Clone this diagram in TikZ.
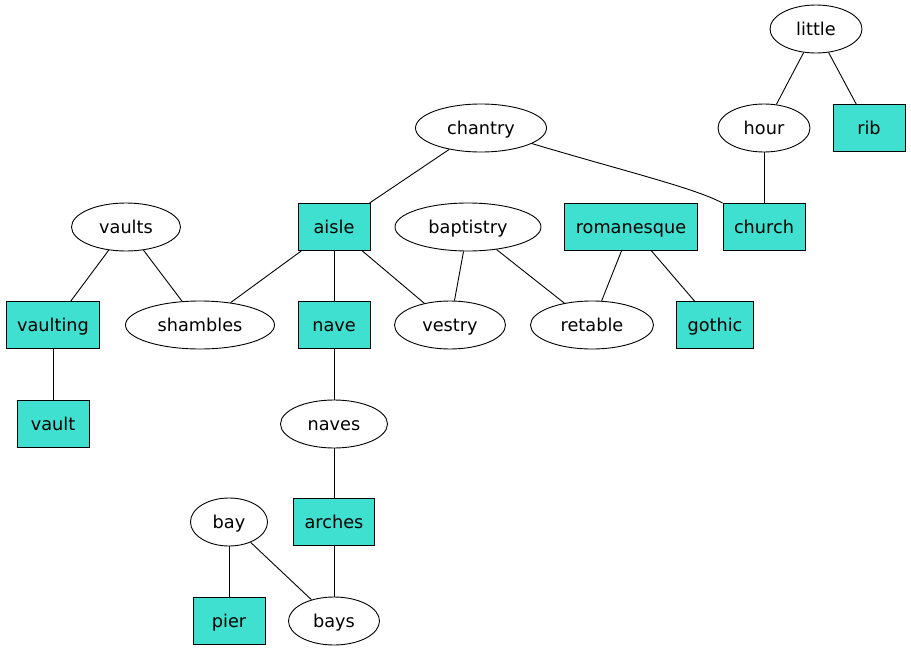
\documentclass[tikz,border=0pt]{standalone}
\usepackage{fontspec}
\setmainfont{DejaVu Sans}
\usetikzlibrary{shapes.geometric}
\begin{document}
\begin{tikzpicture}[x=1pt,y=-1pt,
  every node/.style={font=\fontsize{17.7}{20}\selectfont, inner sep=0pt, text height=14pt, text depth=2pt},
  ell/.style={draw, line width=0.9pt, ellipse, minimum height=48pt},
  sq/.style={draw, line width=0.9pt, rectangle, fill=tq, minimum height=47pt, minimum width=72pt, inner xsep=11pt},
  edge/.style={line width=0.9pt}]
\definecolor{tq}{HTML}{40E0D0}
\useasboundingbox (0,0) rectangle (911,653);
\node[ell, minimum width=92pt] (little) at (816,29) {little};
\node[ell, minimum width=92pt] (hour) at (764,128) {hour};
\node[sq] (rib) at (869,128) {rib};
\node[ell, minimum width=131pt] (chantry) at (481,128) {chantry};
\node[sq] (church) at (764,227) {church};
\node[ell, minimum width=109pt] (vaults) at (126,227) {vaults};
\node[sq] (aisle) at (334,227) {aisle};
\node[ell, minimum width=146pt] (baptistry) at (468,227) {baptistry};
\node[sq] (romanesque) at (631,227) {romanesque};
\node[sq] (vaulting) at (53,325) {vaulting};
\node[ell, minimum width=149pt] (shambles) at (200,325) {shambles};
\node[sq] (nave) at (334,325) {nave};
\node[ell, minimum width=111pt] (vestry) at (450,325) {vestry};
\node[ell, minimum width=123pt] (retable) at (592,325) {retable};
\node[sq] (gothic) at (715,325) {gothic};
\node[sq] (vault) at (53,424) {vault};
\node[ell, minimum width=107pt] (naves) at (334,424) {naves};
\node[ell, minimum width=77pt] (bay) at (229,522) {bay};
\node[sq] (arches) at (334,522) {arches};
\node[sq] (pier) at (229,621) {pier};
\node[ell, minimum width=91pt] (bays) at (334,621) {bays};
\draw[edge] (little) -- (hour);
\draw[edge] (little) -- (rib);
\draw[edge] (hour) -- (church);
\draw[edge] (chantry) -- (aisle);
\draw[edge] (chantry.-17) .. controls (620,170) and (695,188) .. (church.north west);
\draw[edge] (vaults) -- (vaulting);
\draw[edge] (vaults) -- (shambles);
\draw[edge] (aisle) -- (shambles);
\draw[edge] (aisle) -- (nave);
\draw[edge] (aisle) -- (vestry);
\draw[edge] (baptistry) -- (vestry);
\draw[edge] (baptistry) -- (retable);
\draw[edge] (romanesque) -- (retable);
\draw[edge] (romanesque) -- (gothic);
\draw[edge] (vaulting) -- (vault);
\draw[edge] (nave) -- (naves);
\draw[edge] (naves) -- (arches);
\draw[edge] (arches) -- (bays);
\draw[edge] (bay) -- (pier);
\draw[edge] (bay) -- (bays);
\end{tikzpicture}
\end{document}
